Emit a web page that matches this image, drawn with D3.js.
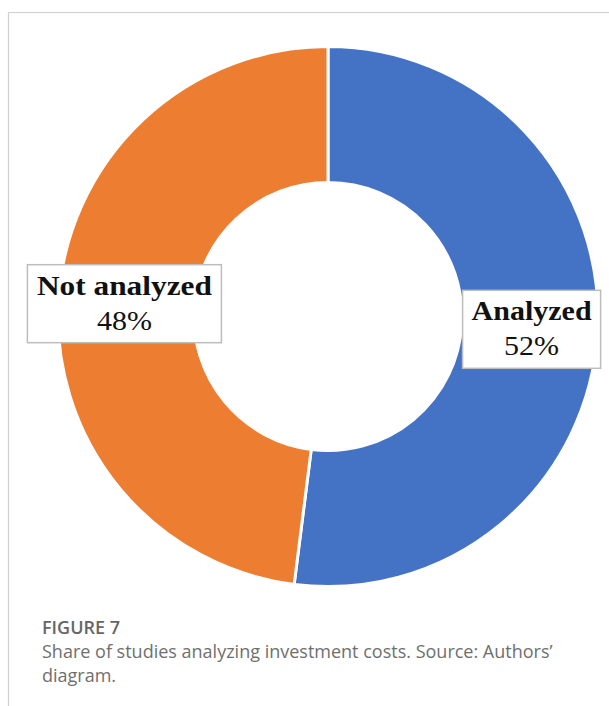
<!DOCTYPE html>
<html>
<head>
<meta charset="utf-8">
<script src="https://cdn.jsdelivr.net/npm/d3@7"></script>
<style>
  html, body { margin: 0; padding: 0; background: #fff; }
  svg { display: block; }
</style>
</head>
<body>
<svg id="chart" width="609" height="706"></svg>
<script>
const categories = ["Analyzed", "Not analyzed"];
const values = [52, 48];
const colors = ["#4472C4", "#ED7D31"];
const figureLabel = "FIGURE 7";
const captionLines = ["Share of studies analyzing investment costs. Source: Authors\u2019", "diagram."];

const svg = d3.select("#chart");

// frame lines
svg.append("line").attr("x1", 8.5).attr("y1", 12.5).attr("x2", 609).attr("y2", 12.5)
  .attr("stroke", "#cfcfcf").attr("stroke-width", 1.2);
svg.append("line").attr("x1", 8.5).attr("y1", 12.5).attr("x2", 8.5).attr("y2", 706)
  .attr("stroke", "#cfcfcf").attr("stroke-width", 1.2);

const cx = 328, cy = 316.5, rOuter = 270, rInner = 134;
const g = svg.append("g").attr("transform", `translate(${cx},${cy})`);

const pie = d3.pie().value(d => d).sort(null);
const arcs = pie(values);
const arc = d3.arc().innerRadius(rInner).outerRadius(rOuter);

g.selectAll("path.slice").data(arcs).enter().append("path")
  .attr("class", "slice")
  .attr("d", arc)
  .attr("fill", (d, i) => colors[i])
  .attr("stroke", "#fff")
  .attr("stroke-width", 3);

const labelArc = d3.arc().innerRadius(204).outerRadius(204);
const total = d3.sum(values);
const boxW = [138, 194], boxH = 78;
const textW = [120, 175];

arcs.forEach((d, i) => {
  const [lx, ly] = labelArc.centroid(d);
  const lg = g.append("g").attr("transform", `translate(${lx},${ly})`);
  lg.append("rect")
    .attr("x", -boxW[i] / 2).attr("y", -boxH / 2)
    .attr("width", boxW[i]).attr("height", boxH)
    .attr("fill", "#fff").attr("stroke", "#bdbdbd").attr("stroke-width", 1.5);
  lg.append("text")
    .attr("x", 0).attr("y", -9)
    .attr("text-anchor", "middle")
    .attr("font-family", "'Liberation Serif', 'DejaVu Serif', serif")
    .attr("font-weight", "bold")
    .attr("font-size", 27)
    .attr("fill", "#111")
    .attr("textLength", textW[i]).attr("lengthAdjust", "spacingAndGlyphs")
    .text(categories[i]);
  lg.append("text")
    .attr("x", 0).attr("y", 26)
    .attr("text-anchor", "middle")
    .attr("font-family", "'Liberation Serif', 'DejaVu Serif', serif")
    .attr("font-size", 27)
    .attr("fill", "#111")
    .attr("textLength", 55).attr("lengthAdjust", "spacingAndGlyphs")
    .text(Math.round(values[i] / total * 100) + "%");
});

// caption
svg.append("text")
  .attr("x", 42).attr("y", 634)
  .attr("font-family", "'Open Sans', sans-serif")
  .attr("font-weight", 600)
  .attr("font-size", 18)
  .attr("fill", "#666")
  .text(figureLabel);

svg.selectAll("text.cap").data(captionLines).enter().append("text")
  .attr("class", "cap")
  .attr("x", 42).attr("y", (d, i) => 658 + i * 24)
  .attr("font-family", "'Open Sans', sans-serif")
  .attr("font-size", 18)
  .attr("fill", "#6f6f6f")
  .text(d => d);
</script>
</body>
</html>
